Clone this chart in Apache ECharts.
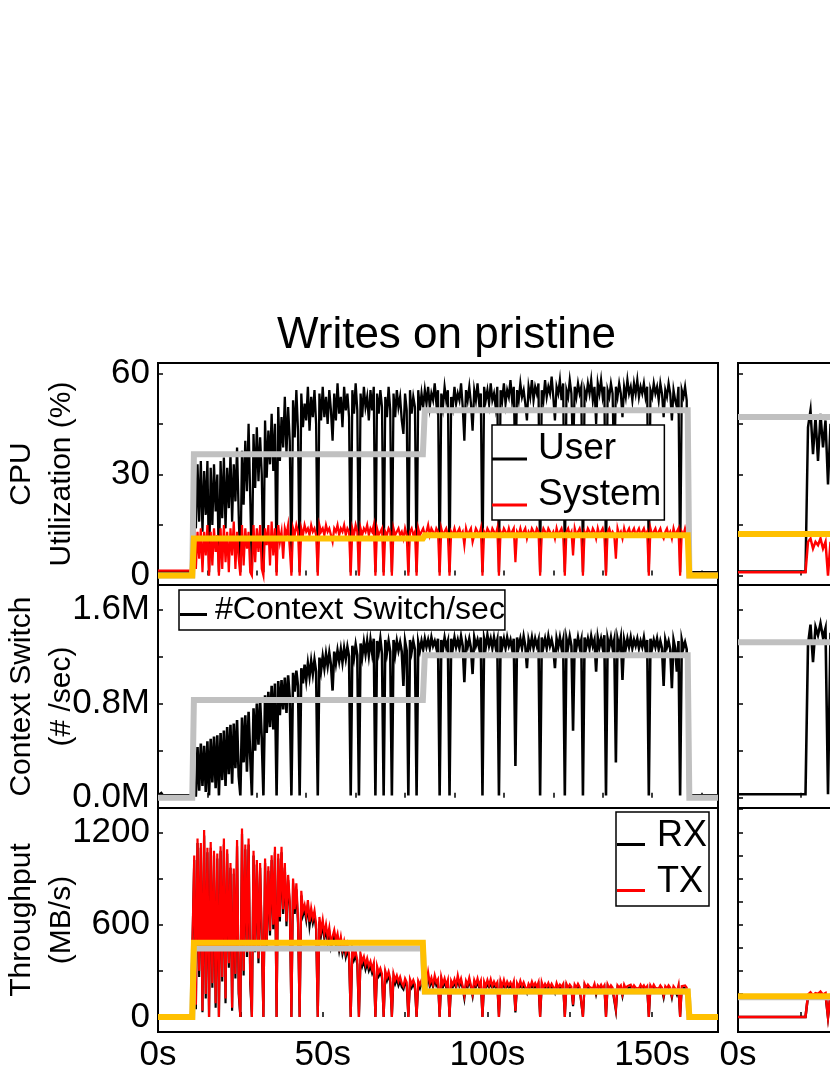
<!DOCTYPE html>
<html>
<head>
<meta charset="utf-8">
<script src="https://cdn.jsdelivr.net/npm/echarts@6/dist/echarts.min.js"></script>
<style>
html,body{margin:0;padding:0;background:#fff;}
#chart{width:830px;height:1075px;}
</style>
</head>
<body>
<div id="chart"></div>
<script>
// ---------- data: left column, one sample every 0.5 s, t = 0..170 s ----------
const sampleStep = 0.5;
const userCPU = [
1,1,1,1,1,1,1,1,1,1,1,1,1,1,1,1,1,1,1,1,
1,1,30,14,33,16,34,13,31,18,34,1,32,15,33,19,30,1,34,17,
35,14,32,20,36,16,33,22,38,18,1,37,21,40,25,45,23,1,42,26,
44,28,41,30,1,46,29,43,33,48,31,45,1,50,34,47,38,53,36,50,
40,1,52,41,55,43,1,54,44,51,46,56,43,53,47,55,45,1,54,46,
56,47,53,45,55,49,40,54,46,57,48,53,44,56,49,54,47,1,55,48,
57,49,1,54,47,56,50,53,46,55,49,56,1,54,48,55,50,1,53,47,
56,49,1,54,47,55,50,53,46,42,54,49,1,55,48,53,50,1,55,49,
54,50,55,51,56,50,54,52,57,51,55,1,54,50,56,52,55,1,53,50,
56,51,54,52,57,50,40,55,52,56,51,43,55,52,57,51,54,1,56,52,
55,51,57,52,54,50,56,1,55,52,57,51,55,53,58,52,56,30,55,52,
57,53,55,51,46,56,53,58,52,56,54,57,1,55,52,58,53,56,54,59,
53,46,56,54,58,52,57,1,55,53,58,54,35,56,53,57,54,56,1,55,
53,57,54,58,52,56,45,57,54,58,53,56,1,55,53,57,54,30,56,53,
57,54,47,56,53,58,54,56,52,57,54,58,53,56,54,57,53,56,1,55,
53,57,54,56,52,57,54,47,55,53,57,54,46,55,52,50,56,1,55,53,
56,52,1,1,1,1,1,1,1,1,1,1,1,1,1,1,1,1,1,1,
1];
const systemCPU = [
1.5,1.5,1.5,1.5,1.5,1.5,1.5,1.5,1.5,1.5,1.5,1.5,1.5,1.5,1.5,1.5,1.5,1.5,1.5,1.5,
1.5,1.5,15,2,13,5,14,1,13,6,15,0,13,3,14,7,12,0,14,2,
15,4,13,1,14,6,16,2,13,5,0,15,3,14,8,13,1,0,15,4,
14,7,15,2,0,14,9,15,3,16,6,14,0,15,10,13,5,14,12,15,
8,0,14,12,15,13,0,14,12,15,13,14,12,15,13,14,12,0,15,13,
14,12,15,13,14,12,10,14,13,15,12,14,13,15,12,14,13,0,14,12,
15,13,0,14,12,14,13,15,12,14,13,15,0,14,12,13,14,0,13,12,
14,13,0,14,12,13,14,12,13,11,14,12,0,13,14,12,13,0,14,12,
13,14,12,13,15,12,14,13,12,14,13,0,14,12,13,14,12,0,13,12,
14,12,13,14,12,13,9,14,12,13,14,10,12,14,13,12,14,0,13,12,
14,13,12,14,13,12,14,0,13,12,14,13,12,14,12,13,14,4,13,12,
14,12,13,14,11,13,12,14,13,12,14,13,0,12,14,13,12,14,13,12,
13,11,14,12,13,14,12,0,13,14,12,13,6,14,12,13,14,12,0,13,
12,14,13,12,14,13,11,14,12,13,14,12,0,13,14,12,13,12,5,14,
12,13,11,14,12,13,14,12,13,14,12,13,14,12,13,14,12,13,0,14,
12,13,14,12,13,14,12,11,13,14,12,13,11,14,12,13,14,0,13,12,
14,12,0.5,0.5,0.5,0.5,0.5,0.5,0.5,0.5,0.5,0.5,0.5,0.5,0.5,0.5,0.5,0.5,0.5,0.5,
0.5];
// context switches, millions per second
const ctxSwitch = [
0.02,0.02,0.04,0.02,0.02,0.02,0.02,0.02,0.02,0.02,0.02,0.02,0.02,0.02,0.02,0.02,0.02,0.02,0.02,0.02,
0.02,0.02,0.02,0.02,0.43,0.06,0.46,0.1,0.44,0.05,0.48,0.02,0.5,0.13,0.52,0.08,0.53,0.02,0.55,0.15,
0.57,0.1,0.6,0.2,0.62,0.12,0.63,0.25,0.66,0.18,0.02,0.68,0.3,0.7,0.22,0.73,0.35,0.02,0.76,0.4,
0.8,0.45,0.83,0.5,0.02,0.87,0.55,0.9,0.6,0.95,0.58,0.97,0.02,0.99,0.7,1.0,0.75,1.02,0.72,1.04,
0.85,0.02,1.06,0.9,1.08,0.95,0.02,1.1,0.97,1.13,1.0,1.14,1.03,1.16,1.05,1.17,1.07,0.02,1.19,1.08,
1.2,1.1,1.22,1.12,1.23,1.13,0.91,1.24,1.14,1.25,1.16,1.26,1.15,1.27,1.18,1.28,1.2,0.02,1.29,1.19,
1.3,1.21,0.02,1.31,1.2,1.32,1.22,1.33,1.21,1.34,1.23,1.35,0.02,1.33,1.24,1.35,1.22,0.02,1.34,1.23,
1.33,1.24,0.02,1.34,1.22,1.33,1.25,1.32,1.24,0.95,1.33,1.25,0.02,1.34,1.24,1.33,1.26,0.02,1.32,1.25,
1.33,1.26,1.35,1.28,1.34,1.27,1.36,1.29,1.33,1.27,1.35,0.02,1.34,1.26,1.36,1.28,1.33,0.02,1.35,1.27,
1.36,1.28,1.34,1.27,1.37,1.29,0.98,1.33,1.28,1.35,1.27,1.05,1.36,1.29,1.34,1.27,1.36,0.02,1.35,1.28,
1.38,1.29,1.35,1.27,1.36,1.28,1.34,0.02,1.37,1.28,1.35,1.27,1.36,1.29,1.34,1.26,1.35,0.27,1.36,1.28,
1.35,1.27,1.37,1.29,1.1,1.34,1.28,1.36,1.27,1.35,1.29,1.34,0.02,1.36,1.28,1.35,1.27,1.37,1.29,1.34,
1.27,1.1,1.35,1.28,1.36,1.27,1.34,0.02,1.35,1.28,1.37,1.29,0.57,1.35,1.27,1.36,1.28,1.34,0.02,1.36,
1.28,1.35,1.27,1.37,1.29,1.34,1.07,1.36,1.28,1.35,1.27,1.38,0.02,1.35,1.28,1.36,1.27,1.34,0.3,1.35,
1.28,1.36,1.0,1.34,1.27,1.35,1.28,1.36,1.27,1.34,1.29,1.35,1.27,1.33,1.28,1.36,1.26,1.34,0.02,1.35,
1.27,1.34,1.28,1.35,1.26,1.33,1.27,0.95,1.34,1.28,1.33,1.26,0.93,1.34,1.27,1.07,1.33,0.02,1.34,1.27,
1.32,1.26,0.02,0.02,0.02,0.02,0.02,0.02,0.02,0.02,0.02,0.02,0.02,0.02,0.02,0.02,0.02,0.02,0.02,0.02,
0.02];
// throughput, MB/s
const rxMBs = [
0,0,0,0,0,0,0,0,0,0,0,0,0,0,0,0,0,0,0,0,
0,0,1020,50,1130,260,1100,30,1180,120,1070,0,1100,190,1050,60,1030,0,1080,230,
1120,90,1060,320,970,40,930,250,1110,150,0,1190,270,1090,390,1120,220,0,1050,420,
990,350,970,490,0,1000,450,950,530,1020,570,1070,0,1030,620,1070,670,970,590,890,
720,0,870,670,830,610,0,790,660,700,630,730,590,670,610,660,570,0,620,530,
600,510,570,490,550,450,440,530,470,510,430,490,410,460,390,440,380,0,430,370,
400,340,0,380,330,365,310,350,300,330,285,320,0,300,265,290,255,0,275,235,
270,225,0,255,215,245,205,235,195,180,225,200,0,220,190,215,185,0,210,185,
220,190,230,200,260,200,235,195,245,205,225,0,235,195,230,190,220,0,215,195,
225,190,245,200,230,185,120,215,195,235,190,135,220,195,230,190,215,0,210,185,
220,190,225,185,210,190,205,0,215,185,220,180,210,190,205,180,210,30,200,180,
215,185,205,180,155,200,180,210,185,200,180,205,0,205,175,200,180,200,175,200,
180,155,200,175,195,180,200,0,200,175,195,180,70,195,175,200,180,190,0,200,
175,195,180,190,170,200,145,190,175,195,170,190,0,195,170,190,175,185,40,190,
175,190,135,195,170,185,175,195,170,190,175,185,170,195,175,190,170,185,0,190,
170,195,175,185,170,190,175,125,185,170,190,175,125,185,170,145,190,0,185,175,
190,175,0,0,0,0,0,0,0,0,0,0,0,0,0,0,0,0,0,0,
0];
const txMBs = [
0,0,0,0,0,0,0,0,0,0,0,0,0,0,0,0,0,0,0,0,
0,0,1050,80,1160,300,1130,40,1215,150,1100,0,1137,220,1080,90,1063,0,1110,260,
1160,120,1090,350,1000,60,965,280,1150,180,0,1225,300,1120,420,1160,250,0,1080,450,
1020,380,1000,520,0,1030,480,980,560,1050,600,1106,0,1060,650,1106,700,1000,620,923,
750,0,900,700,868,640,0,820,690,728,660,760,620,706,640,690,600,0,650,560,
630,540,600,520,580,480,470,565,500,540,460,520,440,490,420,470,410,0,460,400,
425,370,0,410,360,392,340,380,330,360,310,350,0,330,290,316,280,0,300,260,
295,250,0,280,240,270,230,260,220,200,250,225,0,245,215,240,210,0,235,210,
240,205,250,215,290,220,255,210,270,225,245,0,260,215,250,205,240,0,235,210,
245,205,270,215,250,200,140,235,210,255,205,150,240,210,250,205,235,0,230,200,
240,205,245,200,230,205,225,0,235,200,240,195,230,205,225,195,230,40,220,195,
235,200,225,195,170,215,195,230,200,220,195,225,0,225,190,215,195,220,190,215,
195,170,220,190,210,195,215,0,215,190,210,195,80,210,190,215,195,205,0,215,
190,210,195,205,185,215,160,205,190,210,185,205,0,210,185,205,190,200,50,205,
190,205,150,210,185,200,190,210,185,205,190,200,185,210,190,205,185,200,0,205,
185,210,190,200,185,205,190,140,200,185,205,190,140,200,185,160,205,0,200,190,
205,190,0,0,0,0,0,0,0,0,0,0,0,0,0,0,0,0,0,0,
0];
// phase averages (step lines)
const avgTimes  = [0, 10.4, 10.9, 80.4, 81.0, 160.8, 161.3, 170];
const userAvg   = [0, 0, 36, 36, 49, 49, 0, 0];
const systemAvg = [0, 0, 11, 11, 12, 12, 0, 0];
const ctxAvg    = [0, 0, 0.83, 0.83, 1.21, 1.21, 0, 0];
const rxAvg     = [0, 0, 445, 445, 165, 165, 0, 0];
const txAvg     = [0, 0, 483, 483, 165, 165, 0, 0];

// second (cropped) column, one sample per second, t = 0..37 s
const r_sampleStep = 1;
const r_userCPU = [1.2,1.2,1.2,1.2,1.2,1.2,1.2,1.2,1.2,1.2,1.2,1.2,1.2,1.2,1.2,1.2,1.2,1.2,1.2,1.2,1.2,1.2,1.2,1.2,1.2,1.2,1.2,1.2,44,49,36,47,34,48,38,46,27,45];
const r_systemCPU = [1,1,1,1,1,1,1,1,1,1,1,1,1,1,1,1,1,1,1,1,1,1,1,1,1,1,1,1,10,11,8,10,9,11,8,10,0,10];
const r_ctxSwitch = [0.03,0.03,0.03,0.03,0.03,0.03,0.03,0.03,0.03,0.03,0.03,0.03,0.03,0.03,0.03,0.03,0.03,0.03,0.03,0.03,0.03,0.03,0.03,0.03,0.03,0.03,0.03,0.03,1.3,1.47,1.15,1.45,1.38,1.48,1.36,1.44,0.03,1.4];
const r_rxMBs = [0,0,0,0,0,0,0,0,0,0,0,0,0,0,0,0,0,0,0,0,0,0,0,0,0,0,0,0,135,150,130,145,140,155,135,145,0,140];
const r_txMBs = [0,0,0,0,0,0,0,0,0,0,0,0,0,0,0,0,0,0,0,0,0,0,0,0,0,0,0,0,145,160,140,155,150,165,145,155,0,150];
const r_avgTimes = [0, 40];
const r_userAvg = [47, 47];
const r_systemAvg = [12.3, 12.3];
const r_ctxAvg = [1.32, 1.32];
const r_rxAvg = [128, 128];
const r_txAvg = [135, 135];

// ticks / labels
const cpuTicks = [0, 15, 30, 45, 60];
const cpuLabels = [0, 30, 60];
const ctxTicks = [0, 0.4, 0.8, 1.2, 1.6];
const ctxLabels = [0, 0.8, 1.6];
const tputTicks = [0, 300, 600, 900, 1200];
const tputTicksRight = [0, 150, 300, 450, 600, 750, 900, 1050, 1200, 1350];
const tputLabels = [0, 600, 1200];
const timeTicksUpper = [15, 30, 45, 60, 75, 90, 105, 120, 135, 150, 165];
const timeTicksLower = [25, 50, 75, 100, 125, 150];
const timeLabels = [0, 50, 100, 150];
const timeTicksRight = [25, 50, 75, 100, 125, 150, 175, 200];
const timeLabelsRight = [0, 50, 100, 150, 200];

// ---------- chart ----------
const FONT = 'Liberation Sans, Arial, Helvetica, sans-serif';
const seq = (arr, step) => arr.map((v, i) => [i * step, v]);
const pairs = (ts, vs) => ts.map((t, i) => [t, vs[i]]);

const gridBase = {show: true, borderColor: '#000', borderWidth: 2, backgroundColor: 'rgba(0,0,0,0)', outerBoundsMode: 'none', containLabel: false};
const grids = [
  Object.assign({left: 158, top: 363, width: 560, height: 222}, gridBase),
  Object.assign({left: 158, top: 585, width: 560, height: 223}, gridBase),
  Object.assign({left: 158, top: 808, width: 560, height: 224}, gridBase),
  Object.assign({left: 738, top: 363, width: 560, height: 222}, gridBase),
  Object.assign({left: 738, top: 585, width: 560, height: 223}, gridBase),
  Object.assign({left: 738, top: 808, width: 560, height: 224}, gridBase)
];

function xAx(gi, max, ticks, labels) {
  return {
    type: 'value', gridIndex: gi, min: 0, max: max,
    axisLine: {show: false},
    splitLine: {show: false},
    axisTick: {show: true, inside: true, length: 5, customValues: ticks, lineStyle: {color: '#000', width: 1.5}},
    axisLabel: labels ? {show: true, customValues: labels, formatter: v => v + 's', fontSize: 35, fontFamily: FONT, color: '#000', margin: 6, hideOverlap: false}
                      : {show: false}
  };
}
function yAx(gi, min, max, ticks, labels, fmt, name) {
  return {
    type: 'value', gridIndex: gi, min: min, max: max,
    axisLine: {show: false},
    splitLine: {show: false},
    axisTick: {show: true, inside: true, length: 5, customValues: ticks, lineStyle: {color: '#000', width: 1.5}},
    axisLabel: labels ? {show: true, customValues: labels, formatter: fmt, fontSize: 35, fontFamily: FONT, color: '#000', margin: 8}
                      : {show: false},
    name: name || '',
    nameLocation: 'middle', nameRotate: 90, nameGap: 76, nameMoveOverlap: false,
    nameTextStyle: {fontSize: 30, lineHeight: 40, fontFamily: FONT, color: '#000'}
  };
}

const cpuFmt = v => String(v);
const ctxFmt = v => v.toFixed(1) + 'M';
const tputFmt = v => String(v);

const xAxes = [
  xAx(0, 170, timeTicksUpper, null),
  xAx(1, 170, timeTicksUpper, null),
  xAx(2, 170, timeTicksLower, timeLabels),
  xAx(3, 224, timeTicksRight, null),
  xAx(4, 224, timeTicksRight, null),
  xAx(5, 224, timeTicksRight, timeLabelsRight)
];
const yAxes = [
  yAx(0, -2.79, 63.05, cpuTicks, cpuLabels, cpuFmt, 'CPU\nUtilization (%)'),
  yAx(1, -0.087, 1.806, ctxTicks, ctxLabels, ctxFmt, 'Context Switch\n(# /sec)'),
  yAx(2, -97.6, 1358, tputTicks, tputLabels, tputFmt, 'Throughput\n(MB/s)'),
  yAx(3, -2.79, 63.05, cpuTicks, null, null, ''),
  yAx(4, -0.087, 1.806, ctxTicks, null, null, ''),
  yAx(5, -97.6, 1358, tputTicksRight, null, null, '')
];

const BLACK = '#000000', RED = '#ff0000', GRAY = '#c0c0c0', YELLOW = '#ffc000';
function line(name, gi, data, color, width) {
  return {
    type: 'line', name: name, xAxisIndex: gi, yAxisIndex: gi, data: data,
    showSymbol: false, symbol: 'none', silent: true, animation: false,
    lineStyle: {color: color, width: width, join: 'miter'},
    itemStyle: {color: color}
  };
}

const series = [
  line('User', 0, seq(userCPU, sampleStep), BLACK, 2.3),
  line('System', 0, seq(systemCPU, sampleStep), RED, 2.2),
  line('User avg', 0, pairs(avgTimes, userAvg), GRAY, 6),
  line('System avg', 0, pairs(avgTimes, systemAvg), YELLOW, 6),
  line('#Context Switch/sec', 1, seq(ctxSwitch, sampleStep), BLACK, 2.6),
  line('Context avg', 1, pairs(avgTimes, ctxAvg), GRAY, 6),
  line('RX', 2, seq(rxMBs, sampleStep), BLACK, 2.2),
  line('TX', 2, seq(txMBs, sampleStep), RED, 2.2),
  line('RX avg', 2, pairs(avgTimes, rxAvg), GRAY, 6),
  line('TX avg', 2, pairs(avgTimes, txAvg), YELLOW, 6),

  line('User ', 3, seq(r_userCPU, r_sampleStep), BLACK, 2.5),
  line('System ', 3, seq(r_systemCPU, r_sampleStep), RED, 2.5),
  line('User avg ', 3, pairs(r_avgTimes, r_userAvg), GRAY, 6),
  line('System avg ', 3, pairs(r_avgTimes, r_systemAvg), YELLOW, 6),
  line('#Context Switch/sec ', 4, seq(r_ctxSwitch, r_sampleStep), BLACK, 2.6),
  line('Context avg ', 4, pairs(r_avgTimes, r_ctxAvg), GRAY, 6),
  line('RX ', 5, seq(r_rxMBs, r_sampleStep), BLACK, 2.5),
  line('TX ', 5, seq(r_txMBs, r_sampleStep), RED, 2.5),
  line('RX avg ', 5, pairs(r_avgTimes, r_rxAvg), GRAY, 6),
  line('TX avg ', 5, pairs(r_avgTimes, r_txAvg), YELLOW, 6)
];

const legendBase = {
  orient: 'vertical', selectedMode: false,
  borderColor: '#000', borderWidth: 1.5, backgroundColor: '#fff', borderRadius: 0,
  itemStyle: {borderWidth: 0}
};
const legends = [
  Object.assign({}, legendBase, {
    data: ['User', 'System'], left: 492, top: 425, padding: [3, 3, 4, 0], itemGap: 4,
    itemWidth: 35, itemHeight: 23, icon: 'path://M0,0M0,20L35,20L35,23L0,23Z',
    textStyle: {fontSize: 37, lineHeight: 42, fontFamily: FONT, color: '#000', padding: [0, 0, 0, 6]}
  }),
  Object.assign({}, legendBase, {
    data: ['#Context Switch/sec'], left: 179, top: 590, padding: [2, 0, 2, 1], itemGap: 0,
    itemWidth: 27, itemHeight: 12, icon: 'path://M0,0M0,9L27,9L27,12L0,12Z',
    textStyle: {fontSize: 32, lineHeight: 36, fontFamily: FONT, color: '#000', padding: [0, 0, 0, 3]}
  }),
  Object.assign({}, legendBase, {
    data: ['RX', 'TX'], left: 616, top: 812, padding: [3, 2, 3, 1], itemGap: 4,
    itemWidth: 28, itemHeight: 20, icon: 'path://M0,0M0,17L28,17L28,20L0,20Z',
    textStyle: {fontSize: 36, lineHeight: 42, fontFamily: FONT, color: '#000', padding: [0, 0, 0, 7]}
  })
];

const chart = echarts.init(document.getElementById('chart'), null, {renderer: 'canvas'});
chart.setOption({
  animation: false,
  backgroundColor: '#fff',
  title: {
    text: 'Writes on pristine', left: 277, top: 314, padding: 0,
    textStyle: {fontSize: 44, fontWeight: 'normal', fontFamily: FONT, color: '#000'}
  },
  legend: legends,
  grid: grids,
  xAxis: xAxes,
  yAxis: yAxes,
  series: series
});
</script>
</body>
</html>
